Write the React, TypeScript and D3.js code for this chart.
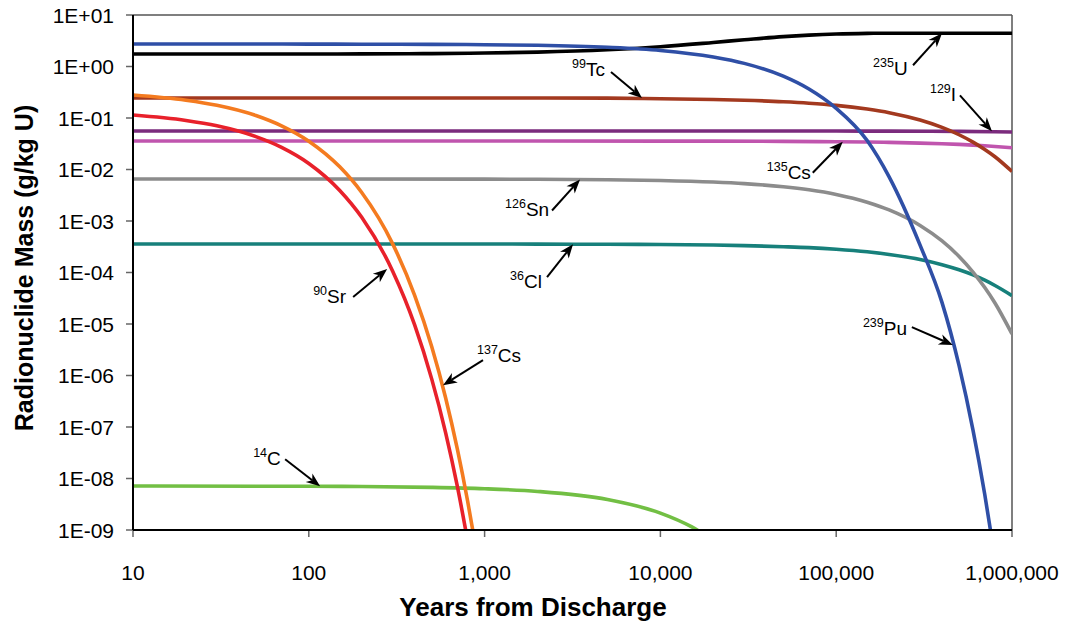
import React from "react";
import * as d3 from "d3";

// ---- data: [years from discharge, g/kg U] ----
const pu239: [number, number][] = [[10,2.73],[20,2.73],[50,2.73],[100,2.72],[200,2.71],[500,2.69],[1000,2.65],[2000,2.58],[5000,2.36],[10000,2.05],[20000,1.53],[30000,1.15],[50000,0.648],[70000,0.365],[100000,0.154],[150000,0.0365],[200000,0.0072],[300000,3.4e-4],[400000,2.6e-5],[500000,1.55e-6],[600000,8.7e-8],[700000,4.9e-9],[800000,2.8e-10]];
const u235: [number, number][] = [[10,1.75],[20,1.75],[50,1.75],[100,1.75],[200,1.76],[500,1.78],[1000,1.83],[2000,1.9],[5000,2.11],[10000,2.42],[20000,2.93],[30000,3.3],[50000,3.8],[70000,4.07],[100000,4.28],[150000,4.4],[200000,4.43],[500000,4.43],[1000000,4.42]];
const tc99: [number, number][] = [[10,0.244],[100,0.244],[1000,0.244],[5000,0.243],[10000,0.237],[20000,0.229],[30000,0.221],[50000,0.207],[70000,0.194],[100000,0.176],[150000,0.149],[200000,0.127],[300000,0.0912],[400000,0.0657],[500000,0.0473],[600000,0.034],[700000,0.0245],[800000,0.0177],[1000000,0.00915]];
const i129: [number, number][] = [[10,0.056],[100,0.056],[1000,0.056],[10000,0.056],[50000,0.0559],[100000,0.0558],[200000,0.0555],[500000,0.0549],[1000000,0.0536]];
const cs135: [number, number][] = [[10,0.0357],[100,0.0357],[1000,0.0357],[10000,0.0356],[50000,0.0352],[100000,0.0346],[150000,0.0341],[200000,0.0336],[300000,0.0325],[400000,0.0316],[500000,0.0307],[600000,0.0298],[700000,0.0289],[800000,0.028],[1000000,0.0264]];
const sn126: [number, number][] = [[10,0.00655],[100,0.00655],[1000,0.0065],[2000,0.00646],[5000,0.00633],[10000,0.00611],[20000,0.0057],[30000,0.00532],[50000,0.00463],[70000,0.00403],[100000,0.00328],[150000,0.00232],[200000,0.00164],[300000,8.2e-4],[400000,4.1e-4],[500000,2.05e-4],[600000,1.02e-4],[700000,5.1e-5],[800000,2.56e-5],[1000000,6.4e-6]];
const cl36: [number, number][] = [[10,3.57e-4],[100,3.57e-4],[1000,3.57e-4],[2000,3.56e-4],[5000,3.53e-4],[10000,3.49e-4],[20000,3.41e-4],[30000,3.33e-4],[50000,3.17e-4],[70000,3.04e-4],[100000,2.83e-4],[150000,2.52e-4],[200000,2.24e-4],[300000,1.79e-4],[400000,1.42e-4],[500000,1.13e-4],[600000,9.0e-5],[700000,7.1e-5],[800000,5.6e-5],[1000000,3.56e-5]];
const sr90: [number, number][] = [[10,0.114],[20,0.0896],[30,0.0705],[50,0.0435],[70,0.0269],[100,0.0131],[150,0.00392],[200,0.00118],[300,1.06e-4],[400,9.6e-6],[500,8.6e-7],[600,7.8e-8],[700,7.0e-9],[800,6.3e-10]];
const cs137: [number, number][] = [[10,0.28],[20,0.222],[30,0.177],[50,0.112],[70,0.0706],[100,0.0355],[150,0.01125],[200,0.00357],[300,3.6e-4],[400,3.6e-5],[500,3.65e-6],[600,3.7e-7],[700,3.7e-8],[800,3.7e-9],[900,3.8e-10]];
const c14: [number, number][] = [[10,7.15e-9],[100,7.06e-9],[200,6.98e-9],[500,6.73e-9],[1000,6.33e-9],[2000,5.61e-9],[5000,3.9e-9],[10000,2.13e-9],[15000,1.16e-9],[20000,6.3e-10]];

const xTicks = [10, 100, 1000, 10000, 100000, 1000000];
const yExponents = [1, 0, -1, -2, -3, -4, -5, -6, -7, -8, -9];

const seriesList = [
  { name: "14C", data: c14, color: "#72bf44" },
  { name: "36Cl", data: cl36, color: "#17807b" },
  { name: "126Sn", data: sn126, color: "#8c8c8c" },
  { name: "135Cs", data: cs135, color: "#c055ae" },
  { name: "129I", data: i129, color: "#7b2b7d" },
  { name: "99Tc", data: tc99, color: "#a3391f" },
  { name: "137Cs", data: cs137, color: "#f47b20" },
  { name: "90Sr", data: sr90, color: "#e8212b" },
  { name: "235U", data: u235, color: "#000000" },
  { name: "239Pu", data: pu239, color: "#2f4fa6" },
];

// label names and arrow tips (data coords)
const annotations = [
  { sup: "99", sym: "Tc", tip: [7857, 0.2445], tail: [-31, -26], text: [-70, -22] },
  { sup: "235", sym: "U", tip: [400000, 4.43], tail: [-29, 32], text: [-69, 42] },
  { sup: "129", sym: "I", tip: [769000, 0.055], tail: [-32, -36], text: [-62, -30] },
  { sup: "135", sym: "Cs", tip: [109000, 0.0345], tail: [-30, 31], text: [-76, 37] },
  { sup: "126", sym: "Sn", tip: [3490, 0.0064], tail: [-28, 31], text: [-75, 37] },
  { sup: "36", sym: "Cl", tip: [3185, 3.55e-4], tail: [-26, 33], text: [-63, 44] },
  { sup: "90", sym: "Sr", tip: [279, 1.17e-4], tail: [-34, 28], text: [-74, 34] },
  { sup: "137", sym: "Cs", tip: [580, 6.5e-7], tail: [40, -25], text: [34, -23] },
  { sup: "14", sym: "C", tip: [116, 7.05e-9], tail: [-35, -27], text: [-67, -21] },
  { sup: "239", sym: "Pu", tip: [461000, 3.9e-6], tail: [-41, -18], text: [-90, -10] },
];

const W = 1069, H = 628;
const M = { left: 133, right: 1012, top: 15, bottom: 530 };
const FONT = "'Liberation Sans', Arial, Helvetica, sans-serif";

export default function App() {
  const x = d3.scaleLog().domain([10, 1e6]).range([M.left, M.right]);
  const y = d3.scaleLog().domain([1e-9, 10]).range([M.bottom, M.top]);
  const line = d3
    .line<[number, number]>()
    .x((d) => x(d[0]))
    .y((d) => y(d[1]))
    .curve(d3.curveMonotoneX);
  const fmtX = d3.format(",");
  const fmtY = (e: number) => `1E${e >= 0 ? "+" : "-"}${String(Math.abs(e)).padStart(2, "0")}`;

  return (
    <svg
      width={W}
      height={H}
      style={{ position: "absolute", left: 0, top: 0, background: "#fff" }}
      fontFamily={FONT}
    >
      <defs>
        <clipPath id="plot">
          <rect x={M.left} y={M.top} width={M.right - M.left} height={M.bottom - M.top} />
        </clipPath>
      </defs>
      <rect x={0} y={0} width={W} height={H} fill="#fff" />

      {/* y ticks & labels */}
      {yExponents.map((e) => (
        <g key={e}>
          <line x1={M.left - 7} x2={M.left} y1={y(Math.pow(10, e))} y2={y(Math.pow(10, e))} stroke="#666" strokeWidth={1.5} />
          <text x={114} y={y(Math.pow(10, e))} dy="0.36em" textAnchor="end" fontSize={21} fill="#000">
            {fmtY(e)}
          </text>
        </g>
      ))}
      {/* x ticks & labels */}
      {xTicks.map((t) => (
        <g key={t}>
          <line x1={x(t)} x2={x(t)} y1={M.bottom} y2={M.bottom + 7} stroke="#666" strokeWidth={1.5} />
          <text x={x(t)} y={580} textAnchor="middle" fontSize={21} fill="#000">
            {fmtX(t)}
          </text>
        </g>
      ))}

      {/* frame */}
      <line x1={M.left} x2={M.right} y1={M.top} y2={M.top} stroke="#555" strokeWidth={1.5} />
      <line x1={M.right} x2={M.right} y1={M.top} y2={M.bottom} stroke="#555" strokeWidth={1.5} />

      {/* series */}
      <g clipPath="url(#plot)">
        {seriesList.map((s) => (
          <path key={s.name} d={line(s.data) || ""} fill="none" stroke={s.color} strokeWidth={3.6} strokeLinejoin="round" />
        ))}
      </g>

      {/* axes */}
      <line x1={M.left} x2={M.left} y1={M.top} y2={M.bottom} stroke="#000" strokeWidth={2} />
      <line x1={M.left} x2={M.right} y1={M.bottom} y2={M.bottom} stroke="#000" strokeWidth={2} />

      {/* annotations */}
      {annotations.map((a, i) => {
        const tx = x(a.tip[0]);
        const ty = y(a.tip[1]);
        const sx = tx + a.tail[0];
        const sy = ty + a.tail[1];
        const ang = Math.atan2(ty - sy, tx - sx);
        const L = 14, Wd = 5.5, notch = 10;
        const cx = Math.cos(ang), sn = Math.sin(ang);
        const bx = tx - L * cx, by = ty - L * sn;
        const nx = tx - notch * cx, ny = ty - notch * sn;
        const head = `M${tx},${ty} L${bx - Wd * sn},${by + Wd * cx} L${nx},${ny} L${bx + Wd * sn},${by - Wd * cx} Z`;
        return (
          <g key={i}>
            <line x1={sx} y1={sy} x2={nx} y2={ny} stroke="#000" strokeWidth={2} />
            <path d={head} fill="#000" />
            <text x={tx + a.text[0]} y={ty + a.text[1]} fontSize={19} fill="#000">
              <tspan fontSize={12.5} dy={-8}>{a.sup}</tspan>
              <tspan dy={8}>{a.sym}</tspan>
            </text>
          </g>
        );
      })}

      {/* titles */}
      <text x={533} y={616} textAnchor="middle" fontSize={26} fontWeight="bold" fill="#000">
        Years from Discharge
      </text>
      <text
        transform={`translate(33, 268) rotate(-90)`}
        textAnchor="middle"
        fontSize={25}
        fontWeight="bold"
        fill="#000"
      >
        Radionuclide Mass (g/kg U)
      </text>
    </svg>
  );
}
